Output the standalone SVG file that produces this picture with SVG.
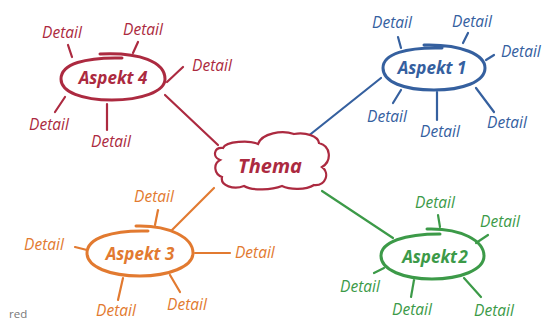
<svg xmlns="http://www.w3.org/2000/svg" width="542" height="320" viewBox="0 0 542 320">
<style>
.d{font-family:"Open Sans","Liberation Sans",sans-serif;font-style:italic;font-size:15.5px;text-anchor:middle}
.a{font-family:"Open Sans","Liberation Sans",sans-serif;font-style:italic;font-weight:bold;font-size:17px;text-anchor:middle}
.s{font-family:"Open Sans","Liberation Sans",sans-serif;font-style:italic;font-size:15.5px;text-anchor:start}
.ln{fill:none;stroke-width:2.2;stroke-linecap:round}
.el{fill:none;stroke-width:3;stroke-linecap:round}
.r{fill:#ac2a40;stroke:#ac2a40}
.b{fill:#35609f;stroke:#35609f}
.o{fill:#e27a30;stroke:#e27a30}
.g{fill:#3c9a48;stroke:#3c9a48}
text{stroke:none !important}
</style>
<rect width="542" height="320" fill="#ffffff"/>
<g id="connectors" class="ln">
  <path d="M165,95 L218,145" stroke="#ac2a40"/>
  <path d="M381,78 L307,137" stroke="#35609f"/>
  <path d="M172,230 L214,188" stroke="#e27a30"/>
  <path d="M322,191 L393,238" stroke="#3c9a48"/>
  <g stroke="#ac2a40">
    <path d="M68,45 L72,57"/><path d="M138,42 L133,53"/><path d="M183,67 L167,82"/><path d="M65,97 L55,112"/><path d="M107,104 L107,130"/>
  </g>
  <g stroke="#35609f">
    <path d="M398,37 L401,48"/><path d="M468,33 L463,43"/><path d="M494,55 L486,60"/><path d="M401,90 L393,103"/><path d="M437,92 L437,120"/><path d="M476,88 L494,112"/>
  </g>
  <g stroke="#e27a30">
    <path d="M158,210 L155,225"/><path d="M75,247 L87,250"/><path d="M195,253 L230,253"/><path d="M123,278 L118,300"/><path d="M170,275 L180,292"/>
  </g>
  <g stroke="#3c9a48">
    <path d="M438,215 L440,227"/><path d="M488,235 L476,243"/><path d="M374,273 L384,268"/><path d="M414,280 L411,297"/><path d="M464,278 L481,297"/>
  </g>
</g>
<g id="thema">
  <path d="M220,160 C212,157 214,147 223,148 C226,141 250,140 258,144 C262,133 282,130 294,134 C306,132 318,136 319,143 C331,146 332,161 322,167 C330,173 326,186 314,185 C306,190 290,190 282,186 C272,190 252,191 244,186 C234,190 220,186 222,177 C214,174 213,164 220,160 Z" fill="#ffffff" stroke="#ac2a40" stroke-width="2.2"/>
  <text x="270" y="173" class="a r" style="font-size:20px">Thema</text>
</g>
<g id="aspekt4">
  <path class="el r" style="fill:none" d="M100,54 C140,52 165,62 165,79 C165,92 140,100 112,100 C82,100 61,92 61,79 C61,64 85,57 122,58"/>
  <text x="113" y="84" class="a r">Aspekt 4</text>
</g>
<g id="aspekt1">
  <path class="el b" style="fill:none" d="M424,45 C462,44 485,55 485,68 C485,82 462,90 434,90 C404,90 383,82 383,68 C383,54 406,47 442,48"/>
  <text x="432" y="74" class="a b">Aspekt 1</text>
</g>
<g id="aspekt3">
  <path class="el o" style="fill:none" d="M136,226 C170,225 193,238 193,253 C193,267 168,276 140,276 C110,276 87,267 87,253 C87,238 112,230 148,231"/>
  <text x="140" y="260" class="a o">Aspekt 3</text>
</g>
<g id="aspekt2">
  <path class="el g" style="fill:none" d="M427,229 C462,228 484,241 484,256 C484,270 460,279 432,279 C404,279 381,270 381,256 C381,242 404,234 440,234"/>
  <text x="435" y="263" class="a g" word-spacing="-3">Aspekt 2</text>
</g>
<g id="details4">
  <g id="d4a"><text x="62" y="38" class="d r">Detail</text></g>
  <g id="d4b"><text x="143" y="35" class="d r">Detail</text></g>
  <g id="d4c"><text x="212" y="71" class="d r">Detail</text></g>
  <g id="d4d"><text x="49" y="130" class="d r">Detail</text></g>
  <g id="d4e"><text x="111" y="147" class="d r">Detail</text></g>
</g>
<g id="details1">
  <g id="d1a"><text x="392" y="28" class="d b">Detail</text></g>
  <g id="d1b"><text x="472" y="27" class="d b">Detail</text></g>
  <g id="d1c"><text x="501" y="57" class="s b">Detail</text></g>
  <g id="d1d"><text x="387" y="122" class="d b">Detail</text></g>
  <g id="d1e"><text x="440" y="137" class="d b">Detail</text></g>
  <g id="d1f"><text x="507" y="128" class="d b">Detail</text></g>
</g>
<g id="details3">
  <g id="d3a"><text x="154" y="202" class="d o">Detail</text></g>
  <g id="d3b"><text x="44" y="250" class="d o">Detail</text></g>
  <g id="d3c"><text x="235" y="258" class="s o">Detail</text></g>
  <g id="d3d"><text x="116" y="316" class="d o">Detail</text></g>
  <g id="d3e"><text x="187" y="310" class="d o">Detail</text></g>
</g>
<g id="details2">
  <g id="d2a"><text x="435" y="208" class="d g">Detail</text></g>
  <g id="d2b"><text x="500" y="227" class="d g">Detail</text></g>
  <g id="d2c"><text x="360" y="292" class="d g">Detail</text></g>
  <g id="d2d"><text x="412" y="315" class="d g">Detail</text></g>
  <g id="d2e"><text x="494" y="316" class="d g">Detail</text></g>
</g>
<text x="9" y="318" font-family="Open Sans, Liberation Sans, sans-serif" font-size="11.5" fill="#777777">red</text>
</svg>
